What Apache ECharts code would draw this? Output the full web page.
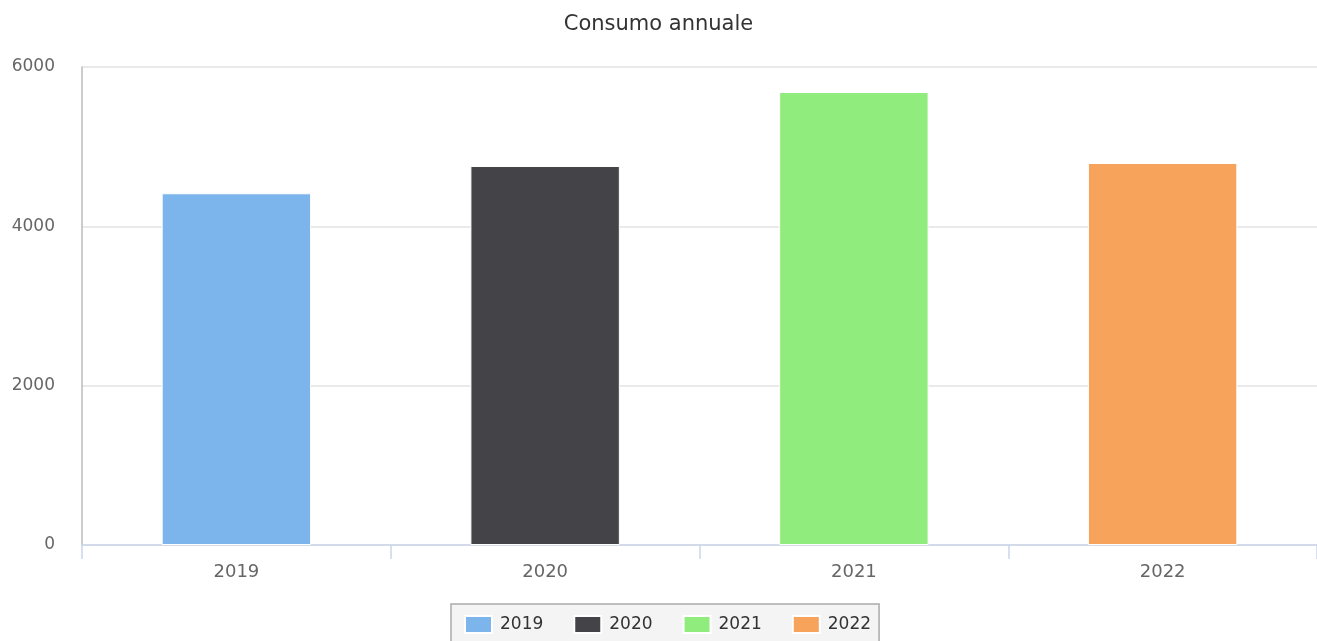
<!DOCTYPE html>
<html>
<head>
<meta charset="utf-8">
<title>Consumo annuale</title>
<script src="https://cdn.jsdelivr.net/npm/echarts@6/dist/echarts.min.js"></script>
<style>
  html, body { margin: 0; padding: 0; background: #fff; }
  #chart { width: 1317px; height: 641px; }
</style>
</head>
<body>
<div id="chart"></div>
<script>
// dati
var anni = ['2019', '2020', '2021', '2022'];
var consumi = [4415, 4757, 5686, 4795];
var colori = ['#7cb5ec', '#434348', '#90ed7d', '#f7a35c'];

var dom = document.getElementById('chart');
var myChart = echarts.init(dom);

// una serie per anno, impilate così la barra resta centrata sulla categoria
var series = anni.map(function (anno, i) {
    var dati = anni.map(function (a, j) { return j === i ? consumi[i] : null; });
    return {
        name: anno,
        type: 'bar',
        stack: 'tot',
        barWidth: '48.4%',
        data: dati,
        itemStyle: { color: colori[i], borderColor: '#fff', borderWidth: 1 }
    };
});

var option = {
    animation: false,
    textStyle: { fontFamily: 'DejaVu Sans' },
    title: {
        text: 'Consumo annuale',
        left: 'center',
        top: 9,
        textStyle: { fontSize: 21, fontWeight: 'normal', color: '#333', fontFamily: 'DejaVu Sans' }
    },
    legend: {
        data: anni,
        icon: 'rect',
        left: 451,
        top: 604,
        padding: [11, 8, 11, 13],
        itemWidth: 27,
        itemHeight: 17,
        itemGap: 30,
        backgroundColor: '#f4f4f4',
        borderColor: '#aaa',
        borderWidth: 1.5,
        borderRadius: 0,
        textStyle: { fontSize: 17, color: '#333', fontFamily: 'DejaVu Sans', padding: [0, 0, 0, 3] }
    },
    grid: { left: 82, right: 0, top: 67, bottom: 96, containLabel: false },
    xAxis: {
        type: 'category',
        data: anni,
        axisLine: { lineStyle: { color: '#ccd6eb', width: 1.5 } },
        axisTick: { show: true, length: 14, lineStyle: { color: '#ccd6eb', width: 1.5 } },
        axisLabel: { fontSize: 18, color: '#666', margin: 18 }
    },
    yAxis: {
        type: 'value',
        min: 0,
        max: 6000,
        interval: 2000,
        axisLine: { show: true, lineStyle: { color: '#bbb', width: 1.5 } },
        axisTick: { show: false },
        splitLine: { lineStyle: { color: '#e3e3e3', width: 1.5 } },
        axisLabel: { fontSize: 17, color: '#666', margin: 27, padding: [4, 0, 0, 0], formatter: function (v) { return String(v); } }
    },
    series: series
};

myChart.setOption(option, true);
</script>
</body>
</html>
